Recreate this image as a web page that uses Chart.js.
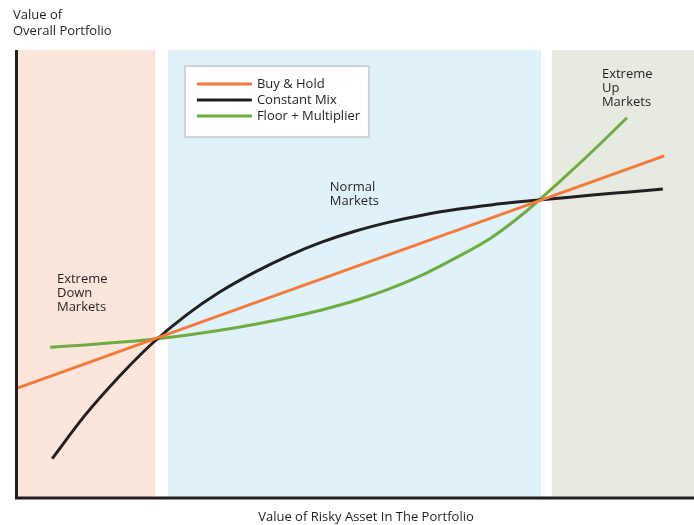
<!DOCTYPE html>
<html>
<head>
<meta charset="utf-8">
<script src="https://cdn.jsdelivr.net/npm/chart.js@4"></script>
<style>
  body { margin: 0; background: #fff; }
  canvas { display: block; }
</style>
</head>
<body>
<canvas id="chart" width="694" height="525"></canvas>
<script>
// values in abstract units: x 0..100 (risky asset), y 0..100 (portfolio)
const buyHold = [[0.15, 24.4], [95.6, 76.3]];
const constantMix = [[5.2, 8.6], [10, 18.2], [15, 26.8], [20, 34.4], [25, 40.7], [30, 45.9],
    [35, 50.2], [40, 53.9], [45, 57.0], [50, 59.5], [55, 61.5], [60, 63.1], [65, 64.35],
    [70, 65.35], [75, 66.15], [80, 66.85], [85, 67.55], [90, 68.2], [95.4, 68.9]];
const floorMultiplier = [[4.9, 33.5], [10, 34.0], [15, 34.6], [20, 35.3], [25, 36.2], [30, 37.3],
    [35, 38.6], [40, 40.1], [45, 41.85], [50, 43.95], [55, 46.55], [60, 49.75], [65, 53.65],
    [70, 57.95], [75, 63.65], [80, 70.35], [85, 77.35], [90.1, 84.85]];

const seriesNames = ['Buy & Hold', 'Constant Mix', 'Floor + Multiplier'];
const seriesColors = ['#f4793b', '#231f20', '#6fac3f'];

const regionStart = [0.15, 22.3, 79.0];
const regionEnd = [20.4, 77.4, 100];
const regionColors = ['#fce6dc', '#e0f2f9', '#e7eae0'];
const regionLabels = [['Extreme', 'Down', 'Markets'], ['Normal', 'Markets'], ['Extreme', 'Up', 'Markets']];
const regionLabelPos = [[5.9, 50.2], [46.2, 70.7], [86.4, 96.0]];

const yTitle = ['Value of', 'Overall Portfolio'];
const xTitle = 'Value of Risky Asset In The Portfolio';

const FONT = '13px "Open Sans", sans-serif';
const INK = '#231f20';

const toPoints = arr => arr.map(p => ({ x: p[0], y: p[1] }));

const decorPlugin = {
    id: 'decor',
    beforeDatasetsDraw(chart) {
        const ctx = chart.ctx;
        const { x, y } = chart.scales;
        const top = y.getPixelForValue(100);
        const bottom = y.getPixelForValue(0);
        ctx.save();
        // market regions
        regionStart.forEach((s, i) => {
            const l = x.getPixelForValue(s);
            const r = x.getPixelForValue(regionEnd[i]);
            ctx.fillStyle = regionColors[i];
            ctx.fillRect(l, top, r - l, bottom - top);
        });
        // region labels
        ctx.fillStyle = INK;
        ctx.font = FONT;
        ctx.textBaseline = 'top';
        ctx.textAlign = 'left';
        regionLabels.forEach((lines, i) => {
            const px = x.getPixelForValue(regionLabelPos[i][0]);
            const py = y.getPixelForValue(regionLabelPos[i][1]);
            lines.forEach((t, j) => ctx.fillText(t, px, py + j * 14));
        });
        ctx.restore();
    },
    afterDatasetsDraw(chart) {
        const ctx = chart.ctx;
        const { x, y } = chart.scales;
        const left = x.getPixelForValue(0);
        const bottom = y.getPixelForValue(0);
        const top = y.getPixelForValue(100);
        ctx.save();
        // axes
        ctx.strokeStyle = INK;
        ctx.lineWidth = 3;
        ctx.beginPath();
        ctx.moveTo(left - 0.5, top);
        ctx.lineTo(left - 0.5, bottom + 1);
        ctx.lineTo(chart.width, bottom + 1);
        ctx.stroke();
        // axis titles
        ctx.fillStyle = INK;
        ctx.font = FONT;
        ctx.textBaseline = 'middle';
        ctx.textAlign = 'left';
        yTitle.forEach((t, j) => ctx.fillText(t, 13, 15 + j * 16));
        ctx.textAlign = 'center';
        ctx.fillText(xTitle, 366, 517);
        // legend box
        const bx = x.getPixelForValue(24.8), by = y.getPixelForValue(96.4);
        ctx.fillStyle = '#ffffff';
        ctx.fillRect(bx, by, 184, 71);
        ctx.strokeStyle = '#cfd2d3';
        ctx.lineWidth = 2;
        ctx.strokeRect(bx, by, 184, 71);
        ctx.textAlign = 'left';
        ctx.textBaseline = 'middle';
        chart.data.datasets.forEach((ds, i) => {
            const ry = by + 18 + i * 16;
            ctx.strokeStyle = ds.borderColor;
            ctx.lineWidth = 3;
            ctx.beginPath();
            ctx.moveTo(bx + 12, ry);
            ctx.lineTo(bx + 67, ry);
            ctx.stroke();
            ctx.fillStyle = INK;
            ctx.fillText(ds.label, bx + 72, ry);
        });
        ctx.restore();
    }
};

new Chart(document.getElementById('chart').getContext('2d'), {
    type: 'line',
    data: {
        datasets: [buyHold, constantMix, floorMultiplier].map((d, i) => ({
            label: seriesNames[i],
            data: toPoints(d),
            borderColor: seriesColors[i],
            borderWidth: 3,
            pointRadius: 0,
            fill: false,
            cubicInterpolationMode: 'monotone',
        })),
    },
    options: {
        responsive: false,
        animation: false,
        layout: { padding: { left: 17, top: 50, right: 0, bottom: 28 } },
        scales: {
            x: { type: 'linear', min: 0, max: 100, display: false },
            y: { min: 0, max: 100, display: false },
        },
        plugins: {
            legend: { display: false },
            tooltip: { enabled: false },
        },
    },
    plugins: [decorPlugin],
});
</script>
</body>
</html>
